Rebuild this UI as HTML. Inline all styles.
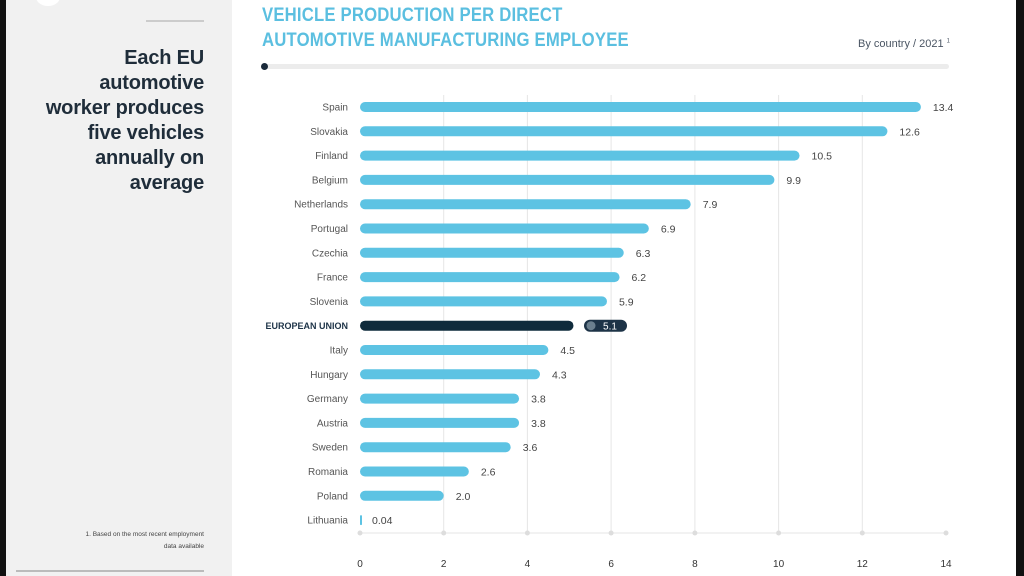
<!DOCTYPE html><html><head><style>
body{margin:0;width:1024px;height:576px;overflow:hidden;background:#fff;font-family:"Liberation Sans",sans-serif;position:relative}
.a{position:absolute}
</style></head><body>
<div class="a" style="left:0;top:0;width:6px;height:576px;background:#111"></div>
<div class="a" style="left:1016px;top:0;width:8px;height:576px;background:#111"></div>
<div class="a" style="left:6px;top:0;width:226px;height:576px;background:#f1f1f1"></div>
<div class="a" style="left:36px;top:-12px;width:24px;height:18px;border-radius:50%;background:#fff"></div>
<div class="a" style="left:146px;top:20px;width:58px;height:2px;background:#ccc"></div>
<div class="a" style="left:4px;top:46px;width:200px;text-align:right;font-size:20px;line-height:25px;font-weight:bold;color:#1f2d3a;letter-spacing:-0.2px">Each EU<br>automotive<br>worker produces<br>five vehicles<br>annually on<br>average</div>
<div class="a" style="left:20px;top:529px;width:184px;text-align:right;font-size:6.5px;line-height:12px;color:#444">1. Based on the most recent employment<br>data available</div>
<div class="a" style="left:16px;top:570px;width:188px;height:2px;background:#bbb"></div>
<div class="a" style="left:262px;top:3px;font-size:19px;line-height:25px;color:#5bbfe0;letter-spacing:0.2px;transform:scaleX(0.88);transform-origin:0 0;white-space:nowrap;font-weight:bold">VEHICLE PRODUCTION PER DIRECT<br>AUTOMOTIVE MANUFACTURING EMPLOYEE</div>
<div class="a" style="left:858px;top:38px;font-size:11px;color:#4a5563">By country / 2021 <sup style="font-size:6px">1</sup></div>
<div class="a" style="left:264px;top:64px;width:685px;height:5px;border-radius:3px;background:#ececec"></div>
<div class="a" style="left:261px;top:63px;width:7px;height:7px;border-radius:50%;background:#1a2a3a"></div>
<svg class="a" style="left:0;top:0" width="1024" height="576" font-family="Liberation Sans, sans-serif">
<g stroke="#e6e6e6" stroke-width="1">
<line x1="443.7" y1="95" x2="443.7" y2="533"/><line x1="527.4" y1="95" x2="527.4" y2="533"/><line x1="611.1" y1="95" x2="611.1" y2="533"/><line x1="694.9" y1="95" x2="694.9" y2="533"/><line x1="778.6" y1="95" x2="778.6" y2="533"/><line x1="862.3" y1="95" x2="862.3" y2="533"/>
<line x1="360" y1="533" x2="946" y2="533"/>
</g>
<g fill="#ddd"><circle cx="360" cy="533" r="2.5"/><circle cx="443.7" cy="533" r="2.5"/><circle cx="527.4" cy="533" r="2.5"/><circle cx="611.1" cy="533" r="2.5"/><circle cx="694.9" cy="533" r="2.5"/><circle cx="778.6" cy="533" r="2.5"/><circle cx="862.3" cy="533" r="2.5"/><circle cx="946" cy="533" r="2.5"/></g>
<g font-size="10" fill="#333" text-anchor="middle">
<text x="360" y="567">0</text><text x="443.7" y="567">2</text><text x="527.4" y="567">4</text><text x="611.1" y="567">6</text><text x="694.9" y="567">8</text><text x="778.6" y="567">10</text><text x="862.3" y="567">12</text><text x="946" y="567">14</text>
</g>
<g id="bars"></g>
</svg>
<script>
const d=[["Spain",13.4],["Slovakia",12.6],["Finland",10.5],["Belgium",9.9],["Netherlands",7.9],["Portugal",6.9],["Czechia",6.3],["France",6.2],["Slovenia",5.9],["EUROPEAN UNION",5.1],["Italy",4.5],["Hungary",4.3],["Germany",3.8],["Austria",3.8],["Sweden",3.6],["Romania",2.6],["Poland",2.0],["Lithuania",0.04]];
let s="";const k=41.86;
d.forEach((r,i)=>{const y=107+i*24.3;const eu=i==9;const w=Math.max(r[1]*k,2);
s+=`<text x="348" y="${y+3.5}" text-anchor="end" font-size="${eu?9:10}" font-weight="${eu?'bold':'normal'}" fill="${eu?'#1d3347':'#555'}">${r[0]}</text>`;
s+=`<rect x="360" y="${y-5}" width="${w}" height="10" rx="${Math.min(5,w/2)}" fill="${eu?'#0f2b3c':'#5dc3e3'}"/>`;
if(eu){s+=`<rect x="584" y="${y-6}" width="43" height="12" rx="6" fill="#1d3347"/><circle cx="591" cy="${y}" r="4.5" fill="#6b7f8e"/><text x="610" y="${y+4}" text-anchor="middle" font-size="10" fill="#fff">5.1</text>`;}
else s+=`<text x="${360+w+(r[1]<1?10:12)}" y="${y+4}" font-size="10.5" fill="#444">${r[1]==0.04?'0.04':r[1].toFixed(1)}</text>`;});
document.getElementById("bars").innerHTML=s;
</script>
</body></html>
